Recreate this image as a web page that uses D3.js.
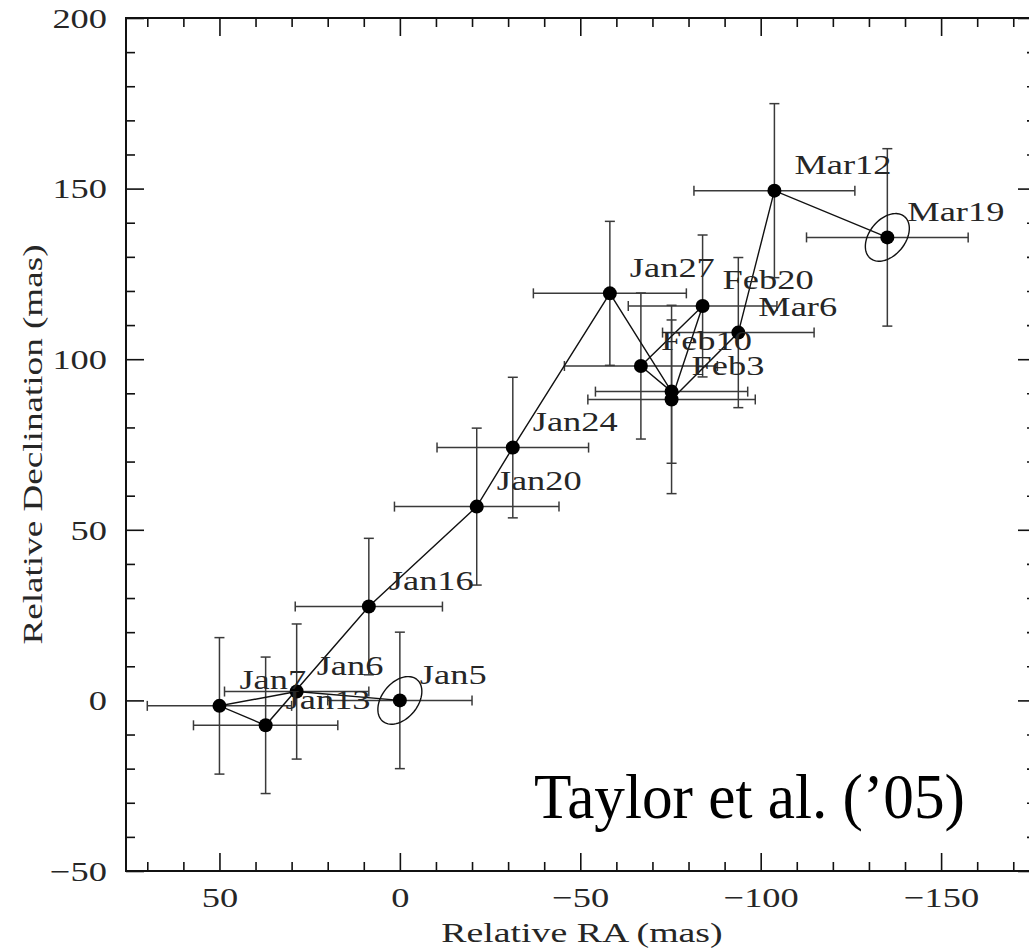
<!DOCTYPE html>
<html>
<head>
<meta charset="utf-8">
<script src="https://cdn.jsdelivr.net/npm/d3@7"></script>
<style>
  html, body { margin: 0; padding: 0; background: #fff; }
  svg { display: block; }
</style>
</head>
<body>
<svg id="chart" width="1029" height="950"></svg>
<script>
// ---- Data ----
const dates  = ["Jan5","Jan6","Jan7","Jan13","Jan16","Jan20","Jan24","Jan27","Feb3","Feb10","Feb20","","Mar6","Mar12","Mar19"];
const ra     = [0, 28.6, 50.0, 37.2, 8.6, -21.3, -31.3, -58.2, -75.3, -66.8, -83.9, -75.3, -93.8, -103.8, -135.1];
const dec    = [0, 2.6, -1.6, -7.3, 27.5, 56.8, 74.1, 119.3, 90.5, 98.0, 115.6, 88.2, 107.8, 149.4, 135.7];
const raErr  = [20, 20, 20, 20, 20.4, 22.8, 21, 21.2, 21.1, 21.2, 20.6, 23.2, 21, 22.3, 22.4];
const decErr = [20, 19.8, 20, 20, 20, 23, 20.6, 21.1, 21, 21.4, 20.8, 27.6, 22, 25.5, 26];
const ellipseAt    = ["Jan5", "Mar19"];
const ellipseMajor = [-4.7, 6.15];   // semi-major axis vector (RA, Dec) in mas
const ellipseMinor = [-3.88, -3.31]; // semi-minor axis vector (RA, Dec) in mas
const raMajorTicks  = [50, 0, -50, -100, -150];
const decMajorTicks = [-50, 0, 50, 100, 150, 200];
const raDomain  = [75.9, -176.3];
const decDomain = [-50, 200];
const xTitle = "Relative RA (mas)";
const yTitle = "Relative Declination (mas)";
const credit = "Taylor et al. (\u201905)";

(function () {
// ---- Layout ----
const pL = 126, pR = 1036, pT = 18, pB = 871;
const svg = d3.select("#chart");
const x = d3.scaleLinear().domain(raDomain).range([pL, pR]);
const y = d3.scaleLinear().domain(decDomain).range([pB, pT]);

const FONT = "'Liberation Serif', 'Times New Roman', serif";
function hershey(sel, size, stretch) {
  sel.attr("font-family", FONT).attr("font-size", size).attr("fill", "#262626");
  sel.each(function() {
    const w = this.getComputedTextLength();
    if (w > 0) d3.select(this).attr("textLength", w * stretch).attr("lengthAdjust", "spacingAndGlyphs");
  });
}
const fmt = d => (d < 0 ? "\u2212" + Math.abs(d) : String(d));

const raMinor  = d3.range(70, -176, -10).filter(v => !raMajorTicks.includes(v));
const decMinor = d3.range(-40, 200, 10).filter(v => !decMajorTicks.includes(v));

function styleAxis(g) {
  g.select(".domain").remove();
  g.selectAll(".tick line").attr("stroke", "#111").attr("stroke-width", 1.6);
}
// bottom
svg.append("g").attr("transform", `translate(0,${pB})`)
  .call(d3.axisBottom(x).tickValues(raMinor).tickSize(-9).tickFormat("")).call(styleAxis);
const bx = svg.append("g").attr("transform", `translate(0,${pB})`)
  .call(d3.axisBottom(x).tickValues(raMajorTicks).tickSizeInner(-18).tickSizeOuter(0).tickFormat(fmt)).call(styleAxis);
bx.selectAll(".tick text").attr("y", 36).attr("dy", 0).attr("text-anchor", "middle").call(t => hershey(t, 28, 1.3));
// top
svg.append("g").attr("transform", `translate(0,${pT})`)
  .call(d3.axisTop(x).tickValues(raMinor).tickSize(-9).tickFormat("")).call(styleAxis);
svg.append("g").attr("transform", `translate(0,${pT})`)
  .call(d3.axisTop(x).tickValues(raMajorTicks).tickSize(-18).tickFormat("")).call(styleAxis);
// left
svg.append("g").attr("transform", `translate(${pL},0)`)
  .call(d3.axisLeft(y).tickValues(decMinor).tickSize(-9).tickFormat("")).call(styleAxis);
const ly = svg.append("g").attr("transform", `translate(${pL},0)`)
  .call(d3.axisLeft(y).tickValues(decMajorTicks).tickSizeInner(-18).tickSizeOuter(0).tickFormat(fmt)).call(styleAxis);
ly.selectAll(".tick text").attr("x", -19).attr("dy", "0.33em").attr("text-anchor", "end").call(t => hershey(t, 28, 1.3));
// right
svg.append("g").attr("transform", `translate(${pR},0)`)
  .call(d3.axisRight(y).tickValues(decMinor).tickSize(-9).tickFormat("")).call(styleAxis);
svg.append("g").attr("transform", `translate(${pR},0)`)
  .call(d3.axisRight(y).tickValues(decMajorTicks).tickSize(-18).tickFormat("")).call(styleAxis);

// frame
svg.append("rect").attr("x", pL).attr("y", pT).attr("width", pR - pL).attr("height", pB - pT)
  .attr("fill", "none").attr("stroke", "#111").attr("stroke-width", 2);

// axis titles
svg.append("text").attr("x", (pL + pR) / 2 + 1).attr("y", 942).attr("text-anchor", "middle")
  .text(xTitle).call(t => hershey(t, 27, 1.4));
svg.append("text").attr("transform", `translate(42,${(pT + pB) / 2}) rotate(-90)`).attr("text-anchor", "middle")
  .text(yTitle).call(t => hershey(t, 27, 1.375));

// ---- Data marks ----
const pts = dates.map((d, i) => ({ label: d, ra: ra[i], dec: dec[i], re: raErr[i], de: decErr[i] }));
const cap = 5;
const eb = svg.append("g").attr("stroke", "#3a3a3a").attr("stroke-width", 1.5).attr("fill", "none");
pts.forEach(p => {
  const cx = x(p.ra), cy = y(p.dec);
  const x0 = x(p.ra + p.re), x1 = x(p.ra - p.re), y0 = y(p.dec + p.de), y1 = y(p.dec - p.de);
  eb.append("line").attr("x1", x0).attr("x2", x1).attr("y1", cy).attr("y2", cy);
  eb.append("line").attr("x1", x0).attr("x2", x0).attr("y1", cy - cap).attr("y2", cy + cap);
  eb.append("line").attr("x1", x1).attr("x2", x1).attr("y1", cy - cap).attr("y2", cy + cap);
  eb.append("line").attr("x1", cx).attr("x2", cx).attr("y1", y0).attr("y2", y1);
  eb.append("line").attr("x1", cx - cap).attr("x2", cx + cap).attr("y1", y0).attr("y2", y0);
  eb.append("line").attr("x1", cx - cap).attr("x2", cx + cap).attr("y1", y1).attr("y2", y1);
});

// connecting track
svg.append("path").datum(pts)
  .attr("d", d3.line().x(p => x(p.ra)).y(p => y(p.dec)))
  .attr("fill", "none").attr("stroke", "#111").attr("stroke-width", 1.4);

// error ellipses
const tSteps = d3.range(0, 2 * Math.PI + 0.01, Math.PI / 40);
pts.filter(p => ellipseAt.includes(p.label)).forEach(p => {
  const ring = tSteps.map(t => [
    p.ra + ellipseMajor[0] * Math.cos(t) + ellipseMinor[0] * Math.sin(t),
    p.dec + ellipseMajor[1] * Math.cos(t) + ellipseMinor[1] * Math.sin(t)
  ]);
  svg.append("path").datum(ring)
    .attr("d", d3.line().x(d => x(d[0])).y(d => y(d[1])))
    .attr("fill", "none").attr("stroke", "#111").attr("stroke-width", 1.4);
});

// points
svg.append("g").selectAll("circle").data(pts).join("circle")
  .attr("cx", p => x(p.ra)).attr("cy", p => y(p.dec)).attr("r", 7).attr("fill", "#000");

// labels
svg.append("g").selectAll("text").data(pts.filter(p => p.label)).join("text")
  .attr("x", p => x(p.ra) + 20).attr("y", p => y(p.dec) - 16.5)
  .text(p => p.label).call(t => hershey(t, 28, 1.3));

// credit
svg.append("text").attr("x", 534).attr("y", 818)
  .attr("font-family", FONT).attr("font-size", 64).attr("fill", "#000")
  .attr("textLength", 431).attr("lengthAdjust", "spacingAndGlyphs")
  .text(credit);
})();
</script>
</body>
</html>
